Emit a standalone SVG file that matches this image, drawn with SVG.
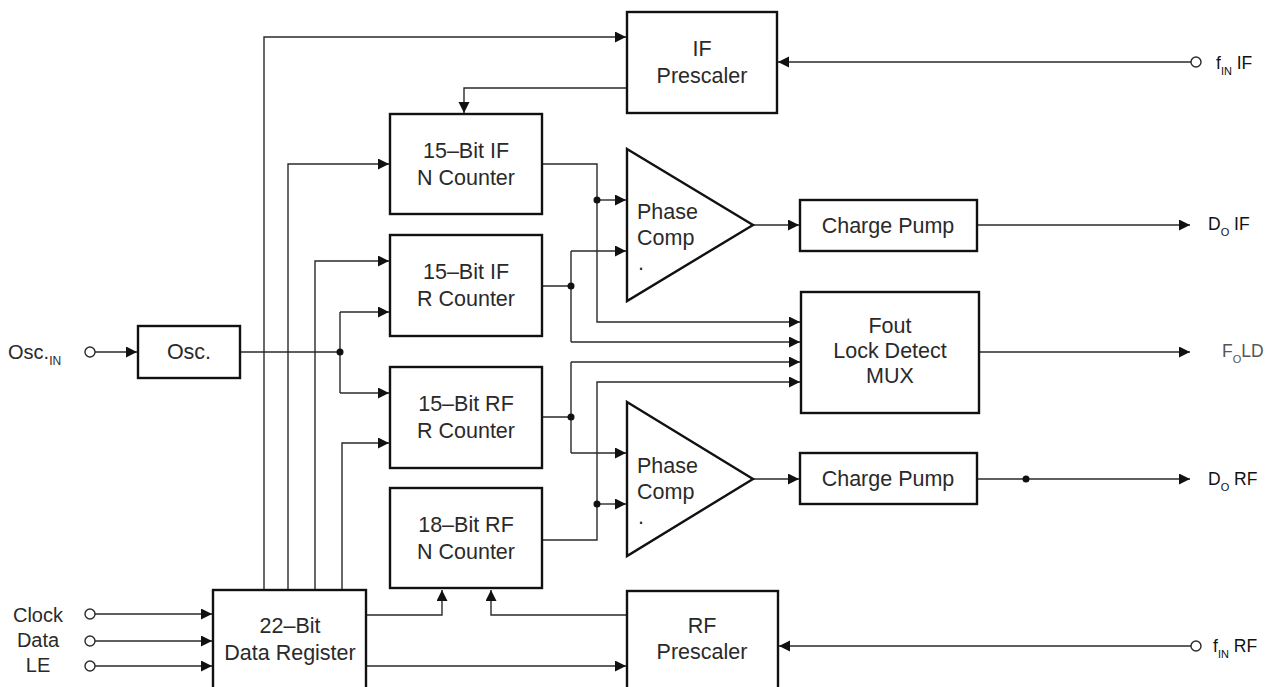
<svg xmlns="http://www.w3.org/2000/svg" width="1267" height="687" viewBox="0 0 1267 687">
<style>
.box{fill:#fff;stroke:#111;stroke-width:2.4}
.w{fill:none;stroke:#2a2a2a;stroke-width:1.4}
.a{marker-end:url(#ah)}
.t{font-family:"Liberation Sans",Arial,sans-serif;font-size:21.5px;fill:#2a2a2a;text-anchor:middle}
.l{font-family:"Liberation Sans",Arial,sans-serif;font-size:20px;fill:#2a2a2a}
.r{font-family:"Liberation Sans",Arial,sans-serif;font-size:17.5px;fill:#111}
.s{font-size:11px}
.dot{fill:#111}
.pin{fill:#fff;stroke:#2a2a2a;stroke-width:1.4}
</style>
<defs>
<marker id="ah" markerUnits="userSpaceOnUse" markerWidth="12" markerHeight="12" refX="11" refY="5.5" orient="auto">
<path d="M0,0 L11,5.5 L0,11 z" fill="#111"/>
</marker>
</defs>
<rect width="1267" height="687" fill="#fff"/>
<g id="connectors">
<path class="w a" d="M95,352 H137"/>
<path class="w" d="M240,352 H340 M340,312 V393"/>
<path class="w a" d="M340,312 H389"/>
<path class="w a" d="M340,393 H389"/>
<path class="w a" d="M264,590 V37 H626"/>
<path class="w a" d="M288,590 V164 H389"/>
<path class="w a" d="M315,590 V261 H389"/>
<path class="w a" d="M342,590 V443 H389"/>
<path class="w a" d="M95,614 H212"/>
<path class="w a" d="M95,641 H212"/>
<path class="w a" d="M95,666 H212"/>
<path class="w a" d="M366,615 H442 V590"/>
<path class="w a" d="M366,666 H626"/>
<path class="w a" d="M627,615 H491 V590"/>
<path class="w a" d="M1191,646 H779"/>
<path class="w a" d="M1191,62 H778"/>
<path class="w a" d="M627,88 H464 V113"/>
<path class="w a" d="M542,164 H597 V322 H800"/>
<path class="w a" d="M597,200 H626"/>
<path class="w" d="M542,286 H571 M571,251 V342"/>
<path class="w a" d="M571,251 H626"/>
<path class="w a" d="M571,342 H800"/>
<path class="w a" d="M753,225 H799"/>
<path class="w a" d="M977,225 H1190"/>
<path class="w a" d="M979,352 H1190"/>
<path class="w" d="M542,417 H571 M571,362 V453"/>
<path class="w a" d="M571,362 H800"/>
<path class="w a" d="M571,453 H626"/>
<path class="w a" d="M542,540 H597 V382 H800"/>
<path class="w a" d="M597,504 H626"/>
<path class="w a" d="M753,479 H799"/>
<path class="w a" d="M977,479 H1190"/>
<circle class="dot" cx="340" cy="352" r="3.5"/>
<circle class="dot" cx="597" cy="200" r="3.5"/>
<circle class="dot" cx="571" cy="286" r="3.5"/>
<circle class="dot" cx="571" cy="417" r="3.5"/>
<circle class="dot" cx="597" cy="504" r="3.5"/>
<circle class="dot" cx="1026" cy="479" r="3.5"/>
<circle class="pin" cx="90" cy="352" r="5"/>
<circle class="pin" cx="90" cy="614" r="5"/>
<circle class="pin" cx="90" cy="641" r="5"/>
<circle class="pin" cx="90" cy="666" r="5"/>
<circle class="pin" cx="1196" cy="62" r="5"/>
<circle class="pin" cx="1196" cy="646" r="5"/>
</g>
<g id="if-prescaler">
<rect class="box" x="627" y="12" width="150" height="101"/>
<text class="t" x="702" y="56">IF</text>
<text class="t" x="702" y="83">Prescaler</text>
</g>
<g id="if-n-counter">
<rect class="box" x="390" y="114" width="152" height="100"/>
<text class="t" x="466" y="158">15–Bit IF</text>
<text class="t" x="466" y="185">N Counter</text>
</g>
<g id="if-r-counter">
<rect class="box" x="390" y="235" width="152" height="101"/>
<text class="t" x="466" y="279">15–Bit IF</text>
<text class="t" x="466" y="306">R Counter</text>
</g>
<g id="rf-r-counter">
<rect class="box" x="390" y="367" width="152" height="101"/>
<text class="t" x="466" y="411">15–Bit RF</text>
<text class="t" x="466" y="438">R Counter</text>
</g>
<g id="rf-n-counter">
<rect class="box" x="390" y="488" width="152" height="100"/>
<text class="t" x="466" y="532">18–Bit RF</text>
<text class="t" x="466" y="559">N Counter</text>
</g>
<g id="osc">
<rect class="box" x="138" y="326" width="102" height="52"/>
<text class="t" x="189" y="359">Osc.</text>
</g>
<g id="data-register">
<rect class="box" x="213" y="590" width="153" height="105"/>
<text class="t" x="290" y="633">22–Bit</text>
<text class="t" x="290" y="660">Data Register</text>
</g>
<g id="rf-prescaler">
<rect class="box" x="627" y="591" width="151" height="104"/>
<text class="t" x="702" y="633">RF</text>
<text class="t" x="702" y="659">Prescaler</text>
</g>
<g id="phase-comp-if">
<polygon class="box" points="627,149 753,225 627,301"/>
<text class="t" x="637" y="219" style="text-anchor:start">Phase</text>
<text class="t" x="637" y="245" style="text-anchor:start">Comp</text>
<text class="t" x="638" y="270" style="text-anchor:start">.</text>
</g>
<g id="phase-comp-rf">
<polygon class="box" points="627,402 753,479 627,556"/>
<text class="t" x="637" y="473" style="text-anchor:start">Phase</text>
<text class="t" x="637" y="499" style="text-anchor:start">Comp</text>
<text class="t" x="638" y="524" style="text-anchor:start">.</text>
</g>
<g id="charge-pump-if">
<rect class="box" x="800" y="200" width="177" height="51"/>
<text class="t" x="888" y="233">Charge Pump</text>
</g>
<g id="charge-pump-rf">
<rect class="box" x="800" y="453" width="177" height="51"/>
<text class="t" x="888" y="486">Charge Pump</text>
</g>
<g id="fout-mux">
<rect class="box" x="801" y="292" width="178" height="121"/>
<text class="t" x="890" y="333">Fout</text>
<text class="t" x="890" y="358">Lock Detect</text>
<text class="t" x="890" y="383">MUX</text>
</g>
<g id="labels">
<text class="l" x="8" y="359">Osc.<tspan style="font-size:12px" dy="6">IN</tspan></text>
<text class="l" x="38" y="622" text-anchor="middle">Clock</text>
<text class="l" x="38" y="647" text-anchor="middle">Data</text>
<text class="l" x="38" y="672" text-anchor="middle">LE</text>
<text class="r" x="1216" y="69">f<tspan class="s" dy="6">IN</tspan><tspan dy="-6"> IF</tspan></text>
<text class="r" x="1208" y="230">D<tspan class="s" dy="6">O</tspan><tspan dy="-6"> IF</tspan></text>
<text class="r" x="1222" y="357" style="fill:#555">F<tspan class="s" dy="6">O</tspan><tspan dy="-6">LD</tspan></text>
<text class="r" x="1208" y="485">D<tspan class="s" dy="6">O</tspan><tspan dy="-6"> RF</tspan></text>
<text class="r" x="1213" y="652">f<tspan class="s" dy="6">IN</tspan><tspan dy="-6"> RF</tspan></text>
</g>
</svg>
